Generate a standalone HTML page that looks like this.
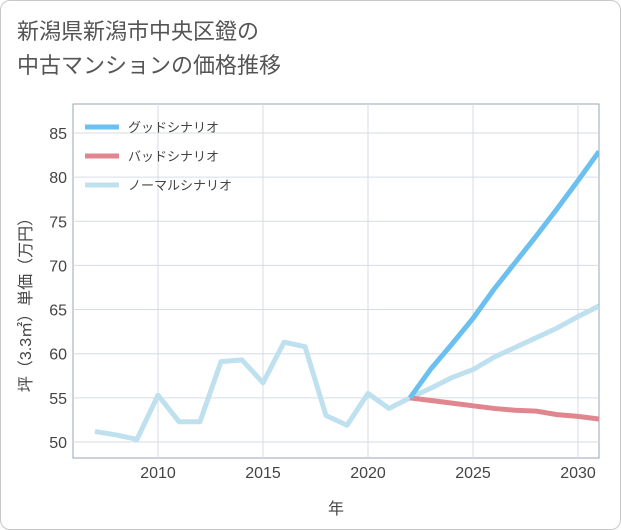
<!DOCTYPE html>
<html><head><meta charset="utf-8">
<style>
body{margin:0;background:#fff;}
#card{position:absolute;left:0;top:0;width:619px;height:528px;border:1px solid #c8c8c8;border-radius:10px;background:#fff;overflow:hidden;}
.t{font-family:"Liberation Sans","Noto Sans CJK JP",sans-serif;}
</style></head><body>
<div id="card">
<div class="t" style="position:absolute;left:16px;top:14px;font-size:22px;line-height:34px;color:#555;">新潟県新潟市中央区鐙の<br>中古マンションの価格推移</div>
<svg id="svg" width="621" height="530" style="position:absolute;left:0;top:0"></svg>
</div>
<script>
const years=[2007,2008,2009,2010,2011,2012,2013,2014,2015,2016,2017,2018,2019,2020,2021,2022,2023,2024,2025,2026,2027,2028,2029,2030,2031];
const normalVals=[51.2,50.8,50.3,55.3,52.3,52.3,59.1,59.3,56.7,61.3,60.8,53.0,51.9,55.5,53.8,55.0,56.1,57.3,58.2,59.6,60.7,61.8,62.9,64.2,65.4];
const scenYears=[2022,2023,2024,2025,2026,2027,2028,2029,2030,2031];
const goodVals=[55.0,58.3,61.1,64.0,67.3,70.3,73.3,76.4,79.6,82.9];
const badVals=[55.0,54.7,54.4,54.1,53.8,53.6,53.5,53.1,52.9,52.6];
const xTicks=[2010,2015,2020,2025,2030];
const yTicks=[50,55,60,65,70,75,80,85];
const L=72,R=598,T=103,B=457;
const X=v=>157+(v-2010)*21;
const Y=v=>441-(v-50)*8.83;
const s=document.getElementById('svg');const NS='http://www.w3.org/2000/svg';
function mk(t,a,p){const e=document.createElementNS(NS,t);for(const k in a)e.setAttribute(k,a[k]);(p||s).appendChild(e);return e;}
const bg=mk('rect',{x:L,y:T,width:R-L,height:B-T,fill:'#fff',stroke:'#9aa4b5'});


xTicks.forEach(v=>{const g=mk('line',{x1:X(v),x2:X(v),y1:T,y2:B,stroke:'#d5dce6'});


const t=mk('text',{x:X(v),y:477,'text-anchor':'middle','font-size':16,fill:'#444',class:'t'});t.textContent=v;

});
yTicks.forEach(v=>{const g=mk('line',{x1:L,x2:R,y1:Y(v),y2:Y(v),stroke:'#d5dce6'});


const t=mk('text',{x:66,y:Y(v)+6,'text-anchor':'end','font-size':16,fill:'#444',class:'t'});t.textContent=v;

});
const clip=mk('clipPath',{id:'c'});mk('rect',{x:L,y:T,width:R-L,height:B-T},clip);
function line(xs,vs,col,name){const p=mk('polyline',{points:xs.map((x,i)=>X(x)+','+Y(vs[i])).join(' '),fill:'none',stroke:col,'stroke-width':5,'stroke-linejoin':'round','clip-path':'url(#c)'});

}
line(years,normalVals,'#bfe0ee','normal-scenario-line');
line(scenYears,badVals,'#e0868f','bad-scenario-line');
line(scenYears,goodVals,'#6cc0f0','good-scenario-line');
[['グッドシナリオ','#6cc0f0'],['バッドシナリオ','#e0868f'],['ノーマルシナリオ','#bfe0ee']].forEach((d,i)=>{const y=126+i*29;
const l=mk('line',{x1:84,x2:118,y1:y,y2:y,stroke:d[1],'stroke-width':5});


const t=mk('text',{x:127,y:y+5,'font-size':13,fill:'#444',class:'t'});t.textContent=d[0];

});
const xt=mk('text',{x:335,y:513,'text-anchor':'middle','font-size':16,fill:'#444',class:'t'});xt.textContent='年';


const yt=mk('text',{x:0,y:0,'text-anchor':'middle','font-size':16,fill:'#444',class:'t',transform:'translate(30,300) rotate(-90)'});yt.textContent='坪（3.3㎡）単価（万円）';


</script>
</body></html>
